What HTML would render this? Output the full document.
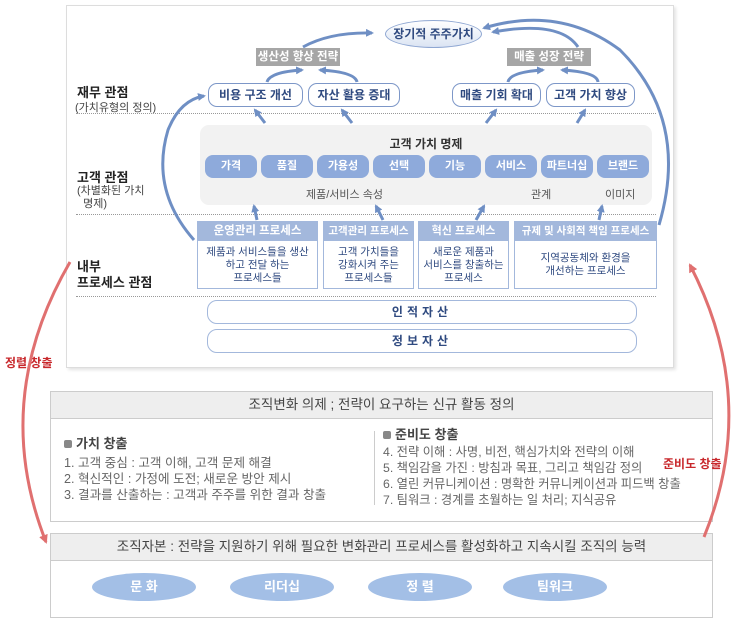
<!DOCTYPE html>
<html><head><meta charset="utf-8"><style>
body{margin:0;width:740px;height:625px;background:#fff;font-family:"Liberation Sans","Noto Sans CJK KR",sans-serif;position:relative;overflow:hidden}
.a{position:absolute}
.panel{left:66px;top:5px;width:606px;height:361px;border:1px solid #ddd;box-shadow:2px 2px 3px #e4e4e4;background:#fff}
.fin{border:1px solid #7d97c8;border-radius:9px;background:#fff;color:#2f4a80;font-size:12px;font-weight:bold;text-align:center;line-height:22px;height:22px}
.gs{background:#a6a6a6;color:#fff;font-size:11.5px;font-weight:bold;text-align:center;line-height:18px;height:18px}
.pill{background:#8eaadb;color:#fff;border-radius:8px;font-size:11px;font-weight:bold;text-align:center;height:23px;line-height:23px;width:52px;top:155px}
.dot{border-top:1px dotted #999;left:76px;width:580px;height:0}
.pb{border:1px solid #a3b8dc;background:#fff}
.ph{background:#a3b8dc;color:#fff;font-size:11px;font-weight:bold;text-align:center;height:19px;line-height:19px}
.pt{color:#2f4a80;font-size:10.5px;text-align:center;line-height:13px;padding-top:5px}
.asset{border:1px solid #a3b8dc;border-radius:10px;left:207px;width:428px;height:22px;line-height:22px;text-align:center;color:#2f4a80;font-size:12px;font-weight:bold;letter-spacing:4px}
.lbl{color:#222;font-size:13px;font-weight:bold}
.sm{color:#444;font-size:11px}
.bx{border:1px solid #ccc;left:50px;width:661px;background:#fff}
.hd{background:#eee;border-bottom:1px solid #ccc;text-align:center;color:#444;font-size:13.5px;height:26px;line-height:26px}
.li{color:#666;font-size:12.6px;line-height:16px}
.ttl{color:#444;font-size:13px;font-weight:bold}
.ico{display:inline-block;width:8px;height:8px;background:#888;border-radius:2px;margin-right:4px;vertical-align:0}
.ell{background:#a3bfe6;border-radius:50%;width:104px;height:28px;line-height:28px;text-align:center;color:#fff;font-size:13px;font-weight:bold;top:573px}
</style></head><body>
<div class="a panel"></div>
<div class="a" style="left:385px;top:20px;width:95px;height:26px;border-radius:50%;background:linear-gradient(#fff,#dbe4f3);border:1px solid #8fa7d2;text-align:center;line-height:26px;font-size:12px;font-weight:bold;color:#2f4a80">장기적 주주가치</div>
<div class="a gs" style="left:256px;top:48px;width:84px">생산성 향상 전략</div>
<div class="a gs" style="left:507px;top:48px;width:84px">매출 성장 전략</div>
<div class="a fin" style="left:208px;top:83px;width:93px">비용 구조 개선</div>
<div class="a fin" style="left:308px;top:83px;width:90px">자산 활용 증대</div>
<div class="a fin" style="left:452px;top:83px;width:87px">매출 기회 확대</div>
<div class="a fin" style="left:546px;top:83px;width:87px">고객 가치 향상</div>
<div class="a lbl" style="left:77px;top:82px">재무 관점</div>
<div class="a sm" style="left:75px;top:99px">(가치유형의 정의)</div>
<div class="a dot" style="top:113px"></div>
<div class="a" style="left:200px;top:125px;width:452px;height:80px;background:#f2f2f2;border-radius:9px"></div>
<div class="a" style="left:200px;top:135px;width:452px;text-align:center;font-size:12px;font-weight:bold;color:#333">고객 가치 명제</div>
<div class="a pill" style="left:205px">가격</div><div class="a pill" style="left:261px">품질</div><div class="a pill" style="left:317px">가용성</div><div class="a pill" style="left:373px">선택</div><div class="a pill" style="left:429px">기능</div><div class="a pill" style="left:485px">서비스</div><div class="a pill" style="left:541px">파트너십</div><div class="a pill" style="left:597px">브랜드</div>
<div class="a" style="left:306px;top:186px;font-size:11px;color:#555">제품/서비스 속성</div>
<div class="a" style="left:531px;top:186px;font-size:11px;color:#555">관계</div>
<div class="a" style="left:605px;top:186px;font-size:11px;color:#555">이미지</div>
<div class="a lbl" style="left:77px;top:167px">고객 관점</div>
<div class="a sm" style="left:77px;top:185px;line-height:13px">(차별화된 가치<br>&nbsp;&nbsp;명제)</div>
<div class="a dot" style="top:214px"></div>
<div class="a pb" style="left:197px;top:221px;width:119px;height:66px"><div class="ph" style="font-size:11.5px">운영관리 프로세스</div><div class="pt">제품과 서비스들을 생산<br>하고 전달 하는<br>프로세스들</div></div>
<div class="a pb" style="left:323px;top:221px;width:89px;height:66px"><div class="ph" style="font-size:10.5px">고객관리 프로세스</div><div class="pt">고객 가치들을<br>강화시켜 주는<br>프로세스들</div></div>
<div class="a pb" style="left:418px;top:221px;width:89px;height:66px"><div class="ph">혁신 프로세스</div><div class="pt">새로운 제품과<br>서비스를 창출하는<br>프로세스</div></div>
<div class="a pb" style="left:514px;top:221px;width:141px;height:66px"><div class="ph" style="font-size:10.5px">규제 및 사회적 책임 프로세스</div><div class="pt" style="padding-top:11px">지역공동체와 환경을<br>개선하는 프로세스</div></div>
<div class="a lbl" style="left:77px;top:259px;line-height:16px">내부<br>프로세스 관점</div>
<div class="a dot" style="top:296px"></div>
<div class="a asset" style="top:300px">인적자산</div>
<div class="a asset" style="top:329px">정보자산</div>

<div class="a bx" style="top:391px;height:129px"><div class="hd">조직변화 의제 ; 전략이 요구하는 신규 활동 정의</div></div>
<div class="a ttl" style="left:64px;top:433px"><span class="ico"></span>가치 창출</div>
<div class="a li" style="left:64px;top:455px">1. 고객 중심 : 고객 이해, 고객 문제 해결<br>2. 혁신적인 : 가정에 도전; 새로운 방안 제시<br>3. 결과를 산출하는 : 고객과 주주를 위한 결과 창출</div>
<div class="a" style="left:374px;top:431px;width:1px;height:74px;background:#ccc"></div>
<div class="a ttl" style="left:383px;top:424px"><span class="ico"></span>준비도 창출</div>
<div class="a li" style="left:383px;top:444px;font-size:12.3px">4. 전략 이해 : 사명, 비전, 핵심가치와 전략의 이해<br>5. 책임감을 가진 : 방침과 목표, 그리고 책임감 정의<br>6. 열린 커뮤니케이션 : 명확한 커뮤니케이션과 피드백 창출<br>7. 팀워크 : 경계를 초월하는 일 처리; 지식공유</div>
<div class="a bx" style="top:533px;height:83px"><div class="hd">조직자본 : 전략을 지원하기 위해 필요한 변화관리 프로세스를 활성화하고 지속시킬 조직의 능력</div></div>
<div class="a ell" style="left:92px">문 화</div>
<div class="a ell" style="left:230px">리더십</div>
<div class="a ell" style="left:368px">정 렬</div>
<div class="a ell" style="left:503px">팀워크</div>
<div class="a" style="left:5px;top:354px;color:#c8282c;font-size:12px;font-weight:bold">정렬 창출</div>
<div class="a" style="left:663px;top:455px;color:#c8282c;font-size:12px;font-weight:bold">준비도 창출</div>

<svg class="a" style="left:0;top:0" width="740" height="625">
<defs>
<marker id="b" markerWidth="8" markerHeight="8" refX="6" refY="4" orient="auto" markerUnits="userSpaceOnUse"><path d="M0,0 L8,4 L0,8 Z" fill="#6f8fc4"/></marker>
<marker id="r" markerWidth="9" markerHeight="9" refX="7" refY="4.5" orient="auto" markerUnits="userSpaceOnUse"><path d="M0,0 L9,4.5 L0,9 Z" fill="#e07070"/></marker>
</defs>
<g fill="none" stroke="#6f8fc4" stroke-width="3" marker-end="url(#b)">
<path d="M303,47 Q330,32 372,33"/>
<path d="M578,47 Q560,20 493,32"/>
<path d="M267,82 Q270,72 302,70"/>
<path d="M357,82 Q355,72 320,70"/>
<path d="M508,82 Q510,72 543,70"/>
<path d="M598,82 Q597,72 562,70"/>
<path d="M265,123 L255,110"/>
<path d="M352,123 L342,110"/>
<path d="M486,123 L496,110"/>
<path d="M577,123 L585,110"/>
<path d="M257,220 L254,206"/>
<path d="M383,220 L376,206"/>
<path d="M476,220 L484,206"/>
<path d="M599,220 L602,206"/>
<path d="M194,240 Q150,190 168,130 Q180,100 204,96"/>
<path d="M659,225 Q690,120 620,50 Q560,5 484,28"/>
</g>
<g fill="none" stroke="#e07070" stroke-width="3">
<path d="M70,262 Q-10,400 46,542" marker-end="url(#r)"/>
<path d="M704,537 Q760,400 690,265" marker-end="url(#r)"/>
</g>
</svg>
</body></html>
